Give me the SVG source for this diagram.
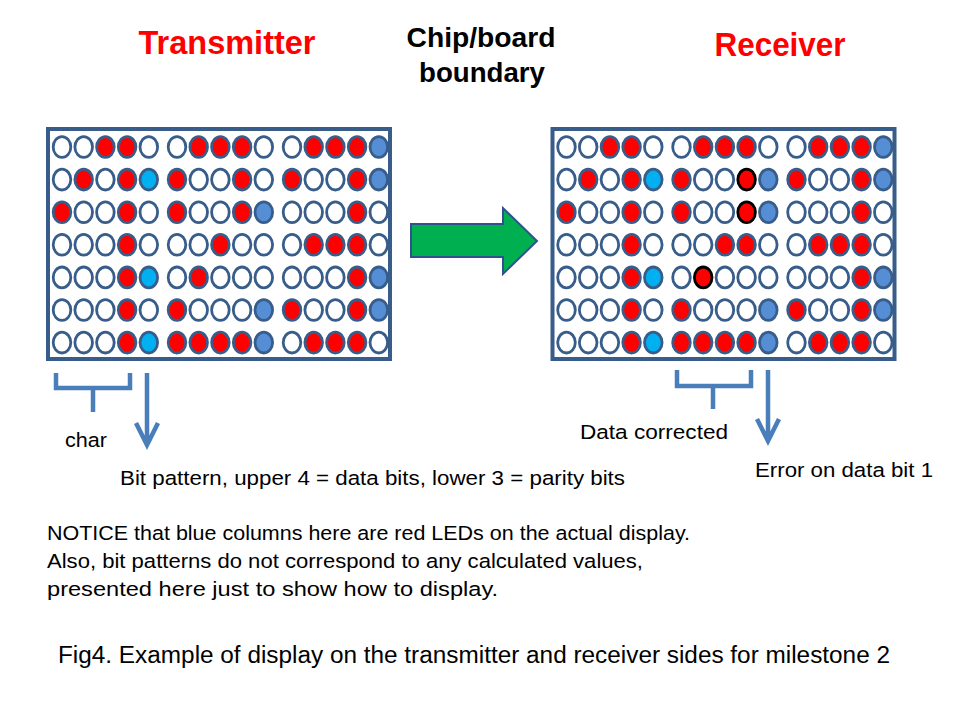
<svg xmlns="http://www.w3.org/2000/svg" xmlns:xlink="http://www.w3.org/1999/xlink" width="960" height="720" viewBox="0 0 960 720">
<style>
  text { font-family: "Liberation Sans", Arial, sans-serif; fill: #000; }
  .title { font-weight: bold; font-size: 33px; fill: #ff0000; }
  .sub { font-weight: bold; font-size: 28px; }
  .lbl { font-size: 20.5px; }
  .cap { font-size: 23px; }
  .frame { fill: #ffffff; stroke: #385d8a; stroke-width: 4; }
  use { stroke: #385d8a; stroke-width: 2.8; }
  .o { fill: #ffffff; }
  .r { fill: #ff0000; }
  .b { fill: #00b0f0; }
  .d { fill: #558ed5; }
  .x { fill: #ff0000; stroke: #000000; }
  .brace { fill: none; stroke: #4a7ebb; stroke-width: 4.5; stroke-linejoin: miter; }
  .arr { fill: none; stroke: #4a7ebb; stroke-width: 4.5; }
</style>
<defs>
  <ellipse id="e" cx="0" cy="0" rx="8.8" ry="10.4"/>
</defs>
<rect width="960" height="720" fill="#ffffff"/>

<g id="titles">
  <text class="title" x="227" y="54" text-anchor="middle" textLength="177" lengthAdjust="spacingAndGlyphs">Transmitter</text>
  <text class="title" x="780" y="56" text-anchor="middle" textLength="131" lengthAdjust="spacingAndGlyphs">Receiver</text>
  <text class="sub" x="481" y="47" text-anchor="middle" textLength="149" lengthAdjust="spacingAndGlyphs">Chip/board</text>
  <text class="sub" x="482" y="82" text-anchor="middle" textLength="126" lengthAdjust="spacingAndGlyphs">boundary</text>
</g>

<g id="transmitter-display">
  <rect class="frame" x="48" y="129" width="342" height="230"/>
  <g transform="translate(0,147)">
    <use href="#e" x="62" class="o"/><use href="#e" x="83.7" class="o"/><use href="#e" x="105.4" class="r"/><use href="#e" x="127.1" class="r"/><use href="#e" x="148.8" class="o"/>
    <use href="#e" x="177" class="o"/><use href="#e" x="198.7" class="r"/><use href="#e" x="220.4" class="r"/><use href="#e" x="242.1" class="r"/><use href="#e" x="263.8" class="o"/>
    <use href="#e" x="292" class="o"/><use href="#e" x="313.7" class="r"/><use href="#e" x="335.4" class="r"/><use href="#e" x="357.1" class="r"/><use href="#e" x="378.8" class="d"/>
  </g>
  <g transform="translate(0,179.6)">
    <use href="#e" x="62" class="o"/><use href="#e" x="83.7" class="r"/><use href="#e" x="105.4" class="o"/><use href="#e" x="127.1" class="r"/><use href="#e" x="148.8" class="b"/>
    <use href="#e" x="177" class="r"/><use href="#e" x="198.7" class="o"/><use href="#e" x="220.4" class="o"/><use href="#e" x="242.1" class="r"/><use href="#e" x="263.8" class="o"/>
    <use href="#e" x="292" class="r"/><use href="#e" x="313.7" class="o"/><use href="#e" x="335.4" class="o"/><use href="#e" x="357.1" class="r"/><use href="#e" x="378.8" class="d"/>
  </g>
  <g transform="translate(0,212.2)">
    <use href="#e" x="62" class="r"/><use href="#e" x="83.7" class="o"/><use href="#e" x="105.4" class="o"/><use href="#e" x="127.1" class="r"/><use href="#e" x="148.8" class="o"/>
    <use href="#e" x="177" class="r"/><use href="#e" x="198.7" class="o"/><use href="#e" x="220.4" class="o"/><use href="#e" x="242.1" class="r"/><use href="#e" x="263.8" class="d"/>
    <use href="#e" x="292" class="o"/><use href="#e" x="313.7" class="o"/><use href="#e" x="335.4" class="o"/><use href="#e" x="357.1" class="r"/><use href="#e" x="378.8" class="o"/>
  </g>
  <g transform="translate(0,244.8)">
    <use href="#e" x="62" class="o"/><use href="#e" x="83.7" class="o"/><use href="#e" x="105.4" class="o"/><use href="#e" x="127.1" class="r"/><use href="#e" x="148.8" class="o"/>
    <use href="#e" x="177" class="o"/><use href="#e" x="198.7" class="o"/><use href="#e" x="220.4" class="r"/><use href="#e" x="242.1" class="o"/><use href="#e" x="263.8" class="o"/>
    <use href="#e" x="292" class="o"/><use href="#e" x="313.7" class="r"/><use href="#e" x="335.4" class="r"/><use href="#e" x="357.1" class="r"/><use href="#e" x="378.8" class="o"/>
  </g>
  <g transform="translate(0,277.4)">
    <use href="#e" x="62" class="o"/><use href="#e" x="83.7" class="o"/><use href="#e" x="105.4" class="o"/><use href="#e" x="127.1" class="r"/><use href="#e" x="148.8" class="b"/>
    <use href="#e" x="177" class="o"/><use href="#e" x="198.7" class="r"/><use href="#e" x="220.4" class="o"/><use href="#e" x="242.1" class="o"/><use href="#e" x="263.8" class="o"/>
    <use href="#e" x="292" class="o"/><use href="#e" x="313.7" class="o"/><use href="#e" x="335.4" class="o"/><use href="#e" x="357.1" class="r"/><use href="#e" x="378.8" class="d"/>
  </g>
  <g transform="translate(0,310)">
    <use href="#e" x="62" class="o"/><use href="#e" x="83.7" class="o"/><use href="#e" x="105.4" class="o"/><use href="#e" x="127.1" class="r"/><use href="#e" x="148.8" class="o"/>
    <use href="#e" x="177" class="r"/><use href="#e" x="198.7" class="o"/><use href="#e" x="220.4" class="o"/><use href="#e" x="242.1" class="o"/><use href="#e" x="263.8" class="d"/>
    <use href="#e" x="292" class="r"/><use href="#e" x="313.7" class="o"/><use href="#e" x="335.4" class="o"/><use href="#e" x="357.1" class="r"/><use href="#e" x="378.8" class="d"/>
  </g>
  <g transform="translate(0,342.6)">
    <use href="#e" x="62" class="o"/><use href="#e" x="83.7" class="o"/><use href="#e" x="105.4" class="o"/><use href="#e" x="127.1" class="r"/><use href="#e" x="148.8" class="b"/>
    <use href="#e" x="177" class="r"/><use href="#e" x="198.7" class="r"/><use href="#e" x="220.4" class="r"/><use href="#e" x="242.1" class="r"/><use href="#e" x="263.8" class="d"/>
    <use href="#e" x="292" class="o"/><use href="#e" x="313.7" class="r"/><use href="#e" x="335.4" class="r"/><use href="#e" x="357.1" class="r"/><use href="#e" x="378.8" class="o"/>
  </g>
</g>

<g id="receiver-display" transform="translate(504.5,0)">
  <rect class="frame" x="48" y="129" width="342" height="230"/>
  <g transform="translate(0,147)">
    <use href="#e" x="62" class="o"/><use href="#e" x="83.7" class="o"/><use href="#e" x="105.4" class="r"/><use href="#e" x="127.1" class="r"/><use href="#e" x="148.8" class="o"/>
    <use href="#e" x="177" class="o"/><use href="#e" x="198.7" class="r"/><use href="#e" x="220.4" class="r"/><use href="#e" x="242.1" class="r"/><use href="#e" x="263.8" class="o"/>
    <use href="#e" x="292" class="o"/><use href="#e" x="313.7" class="r"/><use href="#e" x="335.4" class="r"/><use href="#e" x="357.1" class="r"/><use href="#e" x="378.8" class="d"/>
  </g>
  <g transform="translate(0,179.6)">
    <use href="#e" x="62" class="o"/><use href="#e" x="83.7" class="r"/><use href="#e" x="105.4" class="o"/><use href="#e" x="127.1" class="r"/><use href="#e" x="148.8" class="b"/>
    <use href="#e" x="177" class="r"/><use href="#e" x="198.7" class="o"/><use href="#e" x="220.4" class="o"/><use href="#e" x="242.1" class="x"/><use href="#e" x="263.8" class="d"/>
    <use href="#e" x="292" class="r"/><use href="#e" x="313.7" class="o"/><use href="#e" x="335.4" class="o"/><use href="#e" x="357.1" class="r"/><use href="#e" x="378.8" class="d"/>
  </g>
  <g transform="translate(0,212.2)">
    <use href="#e" x="62" class="r"/><use href="#e" x="83.7" class="o"/><use href="#e" x="105.4" class="o"/><use href="#e" x="127.1" class="r"/><use href="#e" x="148.8" class="o"/>
    <use href="#e" x="177" class="r"/><use href="#e" x="198.7" class="o"/><use href="#e" x="220.4" class="o"/><use href="#e" x="242.1" class="x"/><use href="#e" x="263.8" class="d"/>
    <use href="#e" x="292" class="o"/><use href="#e" x="313.7" class="o"/><use href="#e" x="335.4" class="o"/><use href="#e" x="357.1" class="r"/><use href="#e" x="378.8" class="o"/>
  </g>
  <g transform="translate(0,244.8)">
    <use href="#e" x="62" class="o"/><use href="#e" x="83.7" class="o"/><use href="#e" x="105.4" class="o"/><use href="#e" x="127.1" class="r"/><use href="#e" x="148.8" class="o"/>
    <use href="#e" x="177" class="o"/><use href="#e" x="198.7" class="o"/><use href="#e" x="220.4" class="r"/><use href="#e" x="242.1" class="r"/><use href="#e" x="263.8" class="o"/>
    <use href="#e" x="292" class="o"/><use href="#e" x="313.7" class="r"/><use href="#e" x="335.4" class="r"/><use href="#e" x="357.1" class="r"/><use href="#e" x="378.8" class="o"/>
  </g>
  <g transform="translate(0,277.4)">
    <use href="#e" x="62" class="o"/><use href="#e" x="83.7" class="o"/><use href="#e" x="105.4" class="o"/><use href="#e" x="127.1" class="r"/><use href="#e" x="148.8" class="b"/>
    <use href="#e" x="177" class="o"/><use href="#e" x="198.7" class="x"/><use href="#e" x="220.4" class="o"/><use href="#e" x="242.1" class="o"/><use href="#e" x="263.8" class="o"/>
    <use href="#e" x="292" class="o"/><use href="#e" x="313.7" class="o"/><use href="#e" x="335.4" class="o"/><use href="#e" x="357.1" class="r"/><use href="#e" x="378.8" class="d"/>
  </g>
  <g transform="translate(0,310)">
    <use href="#e" x="62" class="o"/><use href="#e" x="83.7" class="o"/><use href="#e" x="105.4" class="o"/><use href="#e" x="127.1" class="r"/><use href="#e" x="148.8" class="o"/>
    <use href="#e" x="177" class="r"/><use href="#e" x="198.7" class="o"/><use href="#e" x="220.4" class="o"/><use href="#e" x="242.1" class="o"/><use href="#e" x="263.8" class="d"/>
    <use href="#e" x="292" class="r"/><use href="#e" x="313.7" class="o"/><use href="#e" x="335.4" class="o"/><use href="#e" x="357.1" class="r"/><use href="#e" x="378.8" class="d"/>
  </g>
  <g transform="translate(0,342.6)">
    <use href="#e" x="62" class="o"/><use href="#e" x="83.7" class="o"/><use href="#e" x="105.4" class="o"/><use href="#e" x="127.1" class="r"/><use href="#e" x="148.8" class="b"/>
    <use href="#e" x="177" class="r"/><use href="#e" x="198.7" class="r"/><use href="#e" x="220.4" class="r"/><use href="#e" x="242.1" class="r"/><use href="#e" x="263.8" class="d"/>
    <use href="#e" x="292" class="o"/><use href="#e" x="313.7" class="r"/><use href="#e" x="335.4" class="r"/><use href="#e" x="357.1" class="r"/><use href="#e" x="378.8" class="o"/>
  </g>
</g>

<g id="connectors">
  <polygon points="411,224 503,224 503,208 537,241 503,274 503,257 411,257" fill="#00b050" stroke="#2f528f" stroke-width="2"/>
  <path class="brace" d="M56,373 V388 H130 V373 M93,388 V412"/>
  <path class="arr" d="M147,373 V445 M136,423 L147,445 L158,423"/>
  <path class="brace" d="M677,370 V386 H751 V370 M713,386 V409"/>
  <path class="arr" d="M768,370 V441 M757,419 L768,441 L779,419"/>
</g>

<g id="labels">
  <text class="lbl" x="65" y="447" textLength="42" lengthAdjust="spacingAndGlyphs">char</text>
  <text class="lbl" x="120" y="485" textLength="505" lengthAdjust="spacingAndGlyphs">Bit pattern, upper 4 = data bits, lower 3 = parity bits</text>
  <text class="lbl" x="580" y="439" textLength="148" lengthAdjust="spacingAndGlyphs">Data  corrected</text>
  <text class="lbl" x="755" y="477" textLength="178" lengthAdjust="spacingAndGlyphs">Error on data bit 1</text>
  <text class="lbl" x="47" y="540" textLength="643" lengthAdjust="spacingAndGlyphs">NOTICE that blue columns here are red LEDs on the actual display.</text>
  <text class="lbl" x="47" y="568" textLength="596" lengthAdjust="spacingAndGlyphs">Also, bit patterns do not correspond to any calculated values,</text>
  <text class="lbl" x="47" y="596" textLength="451" lengthAdjust="spacingAndGlyphs">presented here just to show how to display.</text>
  <text class="cap" x="58" y="663" textLength="832" lengthAdjust="spacingAndGlyphs">Fig4. Example of display on the transmitter and receiver sides for milestone 2</text>
</g>
</svg>
